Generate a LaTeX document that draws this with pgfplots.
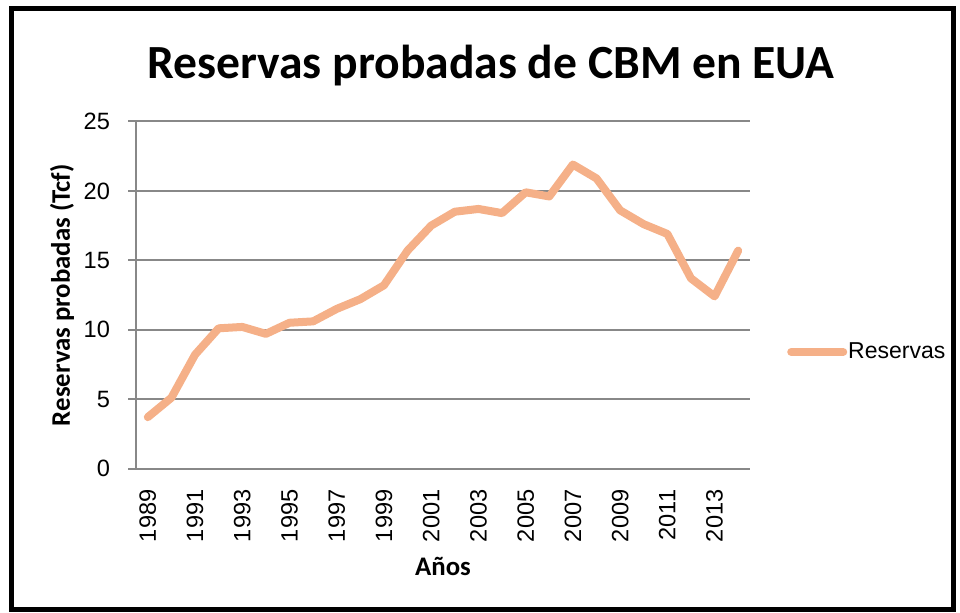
\documentclass[border=0pt]{standalone}
\usepackage{pgfplots}
\pgfplotsset{compat=1.18}
\usepackage{fontspec}
\setmainfont{Carlito}
\newfontfamily\arialfont{Liberation Sans}
\definecolor{lineorange}{HTML}{F5B088}
\definecolor{gridgray}{HTML}{888888}
\begin{document}
\begin{tikzpicture}
\path[use as bounding box] (0pt,0pt) rectangle (480pt,306pt);
\draw[black, line width=2.5pt] (5.5pt,1.2pt) rectangle (476.5pt,301.5pt);
\begin{axis}[
  at={(68pt,71.75pt)}, anchor=south west,
  scale only axis, width=307pt, height=173.5pt,
  xmin=1988.5, xmax=2014.5, ymin=0, ymax=25,
  xtick={1989,1991,...,2013},
  ytick={0,5,10,15,20,25},
  /pgf/number format/assume math mode=true,
  /pgf/number format/1000 sep={},
  axis lines*=left,
  axis line style={gridgray, line width=1pt, -},
  ymajorgrids, grid style={gridgray, line width=1pt},
  tick align=outside,
  major tick length=4pt,
  xtick style={draw=none},
  ytick style={gridgray, line width=1pt},
  tick label style={font=\arialfont\fontsize{11.8}{12}\selectfont, text=black},
  xticklabel style={rotate=90, anchor=east, yshift=0pt, xshift=-3pt},
  yticklabel style={anchor=east, xshift=-5.5pt},
  title={\bfseries Reservas probadas de CBM en EUA},
  title style={at={(axis description cs:0.578,1)}, anchor=base, yshift=15.5pt, font=\fontsize{23.8}{26}\selectfont},
  ylabel={\bfseries Reservas probadas (Tcf)},
  ylabel style={at={(axis description cs:-0.1205,0.5)}, anchor=center, font=\fontsize{13.4}{15}\selectfont},
  xlabel={\bfseries Años},
  xlabel style={at={(axis description cs:0.5,0)}, anchor=center, yshift=-48.75pt, font=\fontsize{13.4}{15}\selectfont},
  legend style={at={(axis description cs:1.06,0.336)}, anchor=west, draw=none, fill=none, inner sep=0pt,
    font=\arialfont\fontsize{11.5}{12}\selectfont,
    nodes={inner xsep=0.5pt}},
  legend image code/.code={\draw[#1, line cap=round] (2pt,0pt) -- (28pt,0pt);},
]
\addplot[lineorange, line width=4pt, line cap=round, line join=round] coordinates {
(1989,3.7) (1990,5.1) (1991,8.2) (1992,10.1) (1993,10.2) (1994,9.7)
(1995,10.5) (1996,10.6) (1997,11.5) (1998,12.2) (1999,13.2) (2000,15.7)
(2001,17.5) (2002,18.5) (2003,18.7) (2004,18.4) (2005,19.9) (2006,19.6)
(2007,21.9) (2008,20.9) (2009,18.6) (2010,17.6) (2011,16.9) (2012,13.7)
(2013,12.4) (2014,15.7)
};
\addlegendentry{Reservas}
\end{axis}
\end{tikzpicture}
\end{document}
